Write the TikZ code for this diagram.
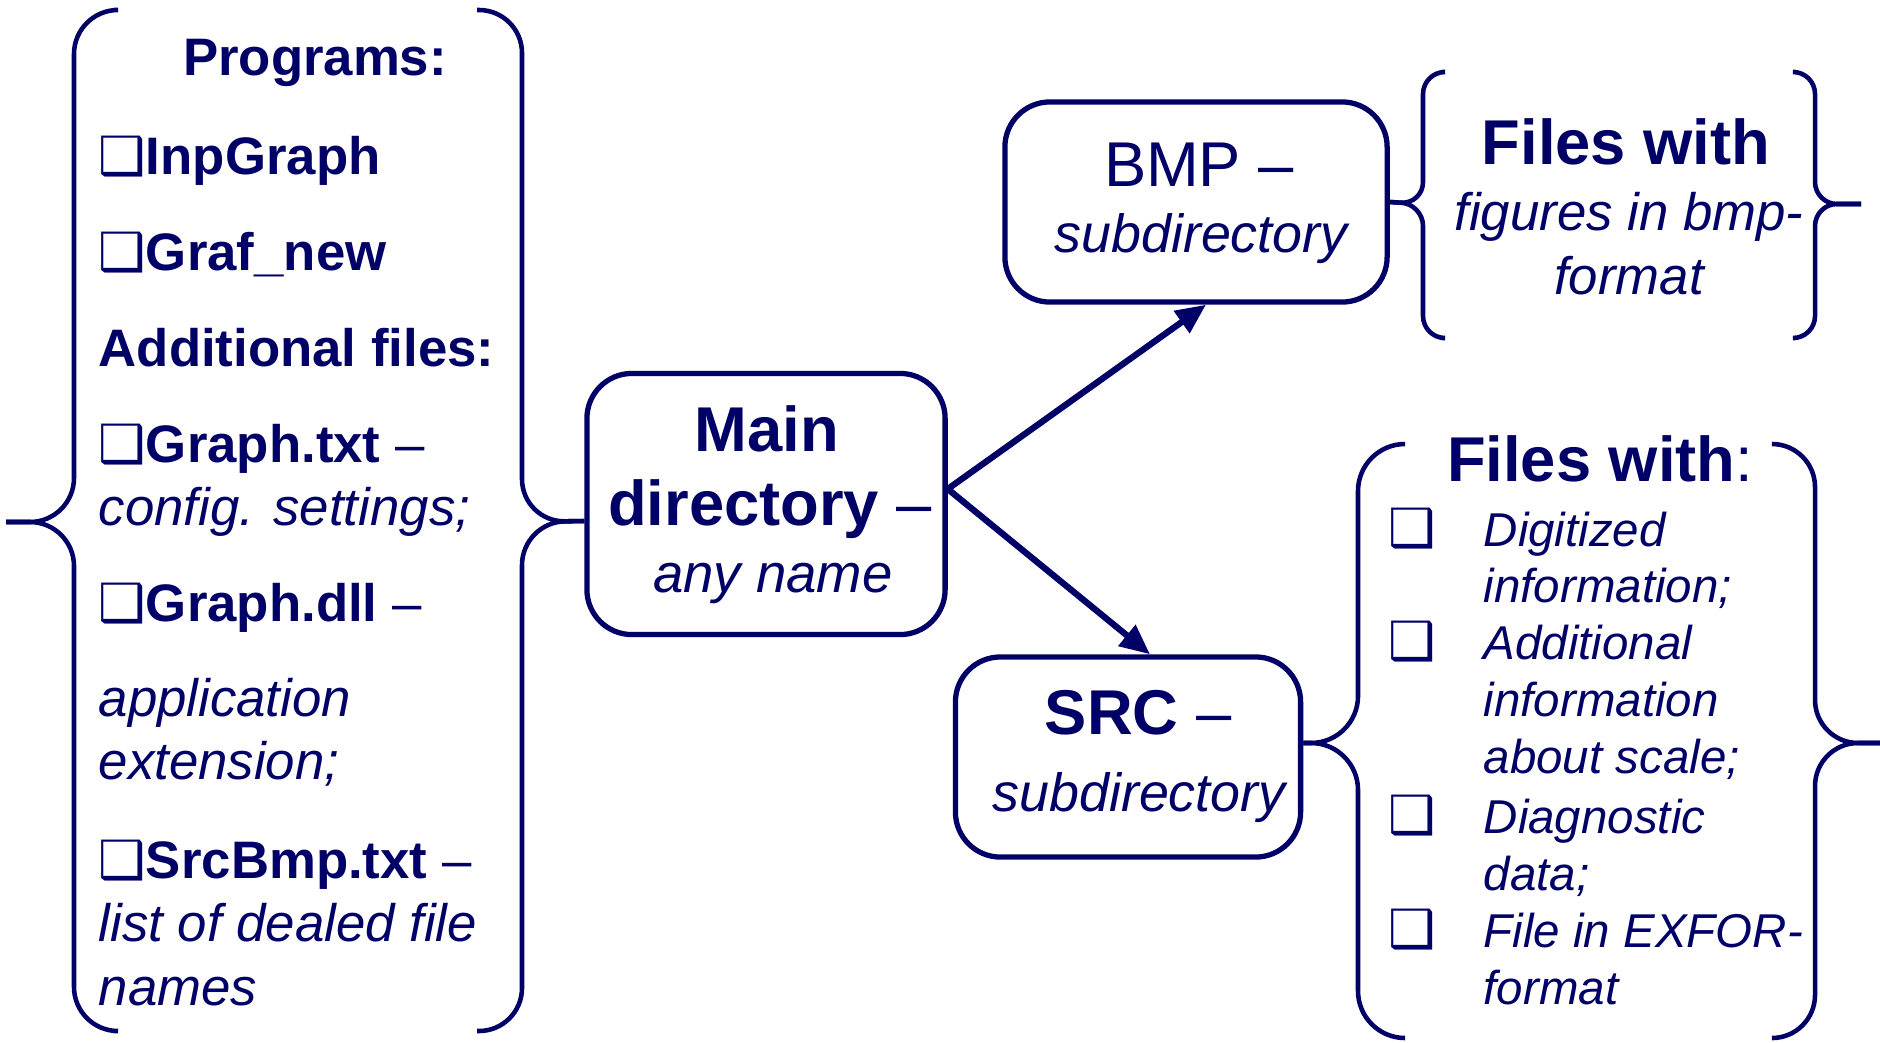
\documentclass[tikz,border=0pt]{standalone}
\usepackage{fontspec}
\setmainfont{Liberation Sans}
\newfontfamily\symbfont{DejaVu Sans}
\usetikzlibrary{positioning,calc,arrows.meta}
\definecolor{navy}{RGB}{0,0,102}
\newcommand{\szL}{\fontsize{15}{18}\selectfont}
\newcommand{\szB}{\fontsize{18}{21}\selectfont}
\newcommand{\szS}{\fontsize{13.5}{16}\selectfont}
\newcommand{\sqbox}{{\symbfont\bfseries\fontsize{15}{15}\selectfont ❑}}

\begin{document}
\begin{tikzpicture}[x=0.01cm,y=-0.01cm]
	\tikzset{dirbox/.style={draw=navy,line width=1.5pt,rounded corners=0.45cm,inner sep=0pt},
		txt/.style={inner sep=0pt,anchor=base west,text=navy},
		ctxt/.style={txt,anchor=base},
		brace/.style={draw=navy,line width=1.3pt,rounded corners=#1},
		link/.style={draw=navy,line width=1.8pt,-{Triangle[length=0.3cm,width=0.26cm]}}}
	\useasboundingbox (0,0) rectangle (1880,1042);
	% boxes
	\node[dirbox,minimum width=3.58cm,minimum height=2.61cm] (main) at (766,504) {};
	\node[dirbox,minimum width=3.82cm,minimum height=2cm] (bmp) at (1196,202) {};
	\node[dirbox,minimum width=3.45cm,minimum height=2cm] (src) at (1128,757) {};
	\node[ctxt,font=\szB\bfseries] (mainA) at (767,451) {Main};
	\node[ctxt,font=\szB] (mainB) at (770,525) {\textbf{directory} –};
	\node[ctxt,font=\fontsize{15.5}{18}\selectfont\itshape] (mainC) at (773,592) {any name};
	\node[ctxt,font=\szB] (bmpA) at (1199,186) {BMP –};
	\node[ctxt,font=\fontsize{15.3}{18}\selectfont\itshape] (bmpB) at (1201,252) {subdirectory};
	\node[ctxt,font=\szB] (srcA) at (1138,734) {\textbf{SRC} –};
	\node[ctxt,font=\fontsize{15.3}{18}\selectfont\itshape] (srcB) at (1139,811) {subdirectory};
	% left list
	\node[ctxt,font=\szL\bfseries] (prog) at (315,75) {Programs:};
	\node[txt,font=\szL\bfseries] (inp) at (98,174) {\sqbox InpGraph};
	\node[txt,font=\szL\bfseries] (graf) at (98,270) {\sqbox Graf\_new};
	\node[txt,font=\szL\bfseries] (addf) at (98,366) {Additional files:};
	\node[txt,font=\szL] (gtxt) at (98,462) {\sqbox\textbf{Graph.txt} –};
	\node[txt,font=\szL\itshape] (gtxtB) at (98,525) {config. settings;};
	\node[txt,font=\szL] (gdll) at (98,621) {\sqbox\textbf{Graph.dll} –};
	\node[txt,font=\szL\itshape] (gdllB) at (98,716) {application};
	\node[txt,font=\szL\itshape] (gdllC) at (98,779) {extension;};
	\node[txt,font=\szL] (sbmp) at (98,878) {\sqbox\textbf{SrcBmp.txt} –};
	\node[txt,font=\szL\itshape] (sbmpB) at (98,941) {list of dealed file};
	\node[txt,font=\szL\itshape] (sbmpC) at (98,1005) {names};
	% bmp files
	\node[ctxt,font=\szB\bfseries] (bfA) at (1626,164) {Files with};
	\node[ctxt,font=\szL\itshape] (bfB) at (1629,230) {figures in bmp-};
	\node[ctxt,font=\szL\itshape] (bfC) at (1629,294) {format};
	% src files
	\node[ctxt,font=\szB] (sfA) at (1600,481) {\textbf{Files with}:};
	\foreach \y/\nm in {546/q1,659/q2,833/q3,947/q4}
		\node[txt,font=\szS] (\nm) at (1388,\y) {\sqbox};
	\node[txt,font=\szS\itshape] (sf1) at (1483,546) {Digitized};
	\node[txt,font=\szS\itshape] (sf2) at (1483,602) {information;};
	\node[txt,font=\szS\itshape] (sf3) at (1483,659) {Additional};
	\node[txt,font=\szS\itshape] (sf4) at (1483,716) {information};
	\node[txt,font=\szS\itshape] (sf5) at (1483,773) {about scale;};
	\node[txt,font=\szS\itshape] (sf6) at (1483,833) {Diagnostic};
	\node[txt,font=\szS\itshape] (sf7) at (1483,890) {data;};
	\node[txt,font=\szS\itshape] (sf8) at (1483,947) {File in EXFOR-};
	\node[txt,font=\szS\itshape] (sf9) at (1483,1004) {format};
	% braces
	\coordinate (lefttip) at (6,522);
	\coordinate (bmptip) at (1861,204);
	\coordinate (srctip) at (1880,743);
	\draw[brace=0.44cm] (114,10) -- (74,10) -- (74,522) -- (lefttip);
	\draw[brace=0.44cm] (lefttip) -- (74,522) -- (74,1031) -- (114,1031);
	\draw[brace=0.43cm] (477,10) -- (522,10) -- (522,522) -- ([yshift=-0.17cm]main.west);
	\draw[brace=0.43cm] ([yshift=-0.17cm]main.west) -- (522,522) -- (522,1031) -- (477,1031);
	\draw[brace=0.22cm] (1442,72) -- (1423,72) -- (1423,204) -- (bmp.east);
	\draw[brace=0.22cm] (bmp.east) -- (1423,204) -- (1423,338) -- (1442,338);
	\draw[brace=0.22cm] (1795,72) -- (1815,72) -- (1815,204) -- (bmptip);
	\draw[brace=0.22cm] (bmptip) -- (1815,204) -- (1815,338) -- (1795,338);
	\draw[brace=0.47cm] (1405,444) -- (1358,444) -- (1358,743) -- ([yshift=0.14cm]src.east);
	\draw[brace=0.47cm] ([yshift=0.14cm]src.east) -- (1358,743) -- (1358,1038) -- (1405,1038);
	\draw[brace=0.43cm] (1772,444) -- (1815,444) -- (1815,743) -- (srctip);
	\draw[brace=0.43cm] (srctip) -- (1815,743) -- (1815,1038) -- (1772,1038);
	% arrows
	\draw[link] ([yshift=0.15cm]main.east) -- ([xshift=0.1cm]bmp.south);
	\draw[link] ([yshift=0.15cm]main.east) -- ([xshift=0.22cm]src.north);
\end{tikzpicture}
\end{document}
